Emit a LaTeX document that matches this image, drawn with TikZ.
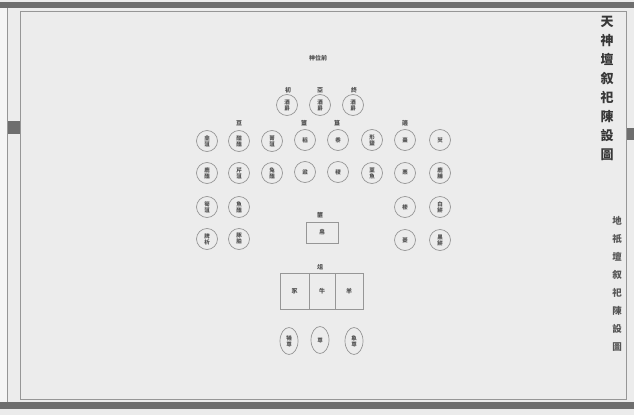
\documentclass[tikz,border=0pt]{standalone}
\usepackage{fontspec}
\newfontfamily\cjk{Noto Sans CJK TC}
\usetikzlibrary{shapes.geometric}
\definecolor{bgc}{RGB}{236,236,236}
\definecolor{framec}{RGB}{150,150,150}
\definecolor{bandc}{RGB}{110,110,110}
\definecolor{linec}{RGB}{150,150,150}
\definecolor{txtc}{RGB}{80,80,80}
\definecolor{titlec}{RGB}{55,55,55}
\tikzset{
  vessel/.style={circle, draw=linec, line width=0.7pt, minimum size=21pt, inner sep=0pt,
    font=\cjk\bfseries\fontsize{5.5}{6}\selectfont, text=txtc, align=center},
  lab/.style={font=\cjk\bfseries\fontsize{6}{6}\selectfont, text=txtc, inner sep=0pt},
  boxc/.style={rectangle, draw=linec, line width=0.7pt, inner sep=0pt,
    font=\cjk\bfseries\fontsize{6}{6}\selectfont, text=txtc},
  urn/.style={ellipse, draw=linec, line width=0.7pt, minimum width=18pt, minimum height=27pt,
    inner sep=0pt, font=\cjk\bfseries\fontsize{5.5}{6}\selectfont, text=txtc, align=center},
  titletext/.style={font=\cjk\bfseries\fontsize{13}{19}\selectfont, text=titlec, align=center, inner sep=0pt, anchor=north},
  subtitletext/.style={font=\cjk\bfseries\fontsize{9.5}{18}\selectfont, text=titlec!85!white, align=center, inner sep=0pt, anchor=north}
}
\begin{document}
\begin{tikzpicture}[x=1pt,y=-1pt]
\fill[bgc] (0,0) rectangle (634,415);
\useasboundingbox (0,0) rectangle (634,415);
% frame
\fill[bandc] (0,2) rectangle (634,8);
\fill[bandc] (0,402) rectangle (634,409);
\fill[white!92!black] (0,409) rectangle (634,415);
\fill[white!96!black] (0,8) rectangle (7,402);
\draw[framec, line width=0.5pt] (7,8) -- (7,402);
\draw[framec, line width=0.8pt] (20,11) -- (626,11) -- (626,399) -- (20,399) -- cycle;
\fill[bandc] (8,121) rectangle (20,134);
\fill[bandc] (627,128) rectangle (634,140);
% titles
\node[titletext] (t1) at (607,16) {天\\神\\壇\\叙\\祀\\陳\\設\\圖};
\node[subtitletext] (t2) at (617,216) {地\\祇\\壇\\叙\\祀\\陳\\設\\圖};
% top
\node[lab] (head) at (318,58) {神位前};
\node[lab] (l1) at (288,90) {初};
\node[lab] (l2) at (320,90) {亞};
\node[lab] (l3) at (354,90) {終};
\node[vessel] (j1) at (287,105) {酒\\爵};
\node[vessel] (j2) at (320,105) {酒\\爵};
\node[vessel] (j3) at (353,105) {酒\\爵};
% labels row 2
\node[lab] (ld) at (239,123) {豆};
\node[lab] (lf) at (304,123) {簠};
\node[lab] (lg) at (337,123) {簋};
\node[lab] (lb) at (405,123) {籩};
% left block
\node[vessel] (d1) at (207,141) {韭\\菹};
\node[vessel] (d2) at (239,141) {醓\\醢};
\node[vessel] (d3) at (272,141) {菁\\菹};
\node[vessel] (d4) at (207,173) {鹿\\醢};
\node[vessel] (d5) at (239,173) {芹\\菹};
\node[vessel] (d6) at (272,173) {兔\\醢};
\node[vessel] (d7) at (207,207) {筍\\菹};
\node[vessel] (d8) at (239,207) {魚\\醢};
\node[vessel] (d9) at (207,239) {脾\\析};
\node[vessel] (d10) at (239,239) {豚\\胉};
% centre
\node[vessel] (c1) at (305,140) {稻};
\node[vessel] (c2) at (338,140) {黍};
\node[vessel] (c3) at (305,172) {粱};
\node[vessel] (c4) at (338,172) {稷};
% right block
\node[vessel] (b1) at (372,140) {形\\鹽};
\node[vessel] (b2) at (405,140) {棗};
\node[vessel] (b3) at (440,140) {芡};
\node[vessel] (b4) at (372,173) {藳\\魚};
\node[vessel] (b5) at (405,173) {栗};
\node[vessel] (b6) at (440,173) {鹿\\脯};
\node[vessel] (b7) at (405,207) {榛};
\node[vessel] (b8) at (440,207) {白\\餅};
\node[vessel] (b9) at (405,240) {菱};
\node[vessel] (b10) at (440,240) {黑\\餅};
% basket
\node[lab] (lp) at (320,215) {篚};
\node[boxc, minimum width=32pt, minimum height=21pt] (p) at (322,232.5) {帛};
% offering table
\node[lab] (lz) at (320,267) {俎};
\node[boxc, minimum width=29pt, minimum height=36pt] (z1) at (294.5,291) {豕};
\node[boxc, minimum width=26pt, minimum height=36pt] (z2) at (322,291) {牛};
\node[boxc, minimum width=28pt, minimum height=36pt] (z3) at (349,291) {羊};
% vessels below
\node[urn] (u1) at (289,341) {犧\\尊};
\node[urn] (u2) at (320,340) {尊};
\node[urn] (u3) at (354,341) {象\\尊};
\end{tikzpicture}
\end{document}
